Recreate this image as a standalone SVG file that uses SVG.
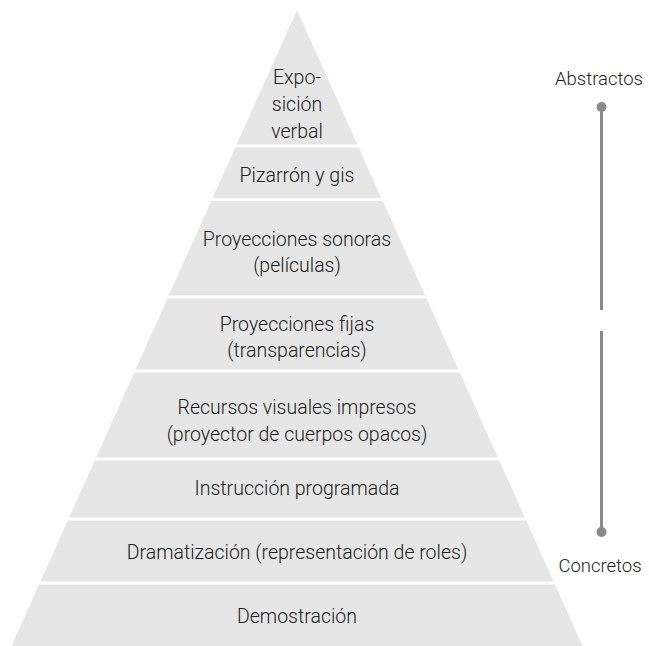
<svg xmlns="http://www.w3.org/2000/svg" width="649" height="646" viewBox="0 0 649 646">
<style>
.band{fill:#e6e6e6}
.t{font-family:Roboto,"Liberation Sans",sans-serif;font-size:19.5px;fill:#222;text-anchor:middle;font-weight:300}
.s{font-size:18.5px}
.ln{stroke:#8a8a8a;stroke-width:3;fill:none}
.dot{fill:#8a8a8a}
</style>
<rect width="649" height="646" fill="#fff"/>
<g id="n1"><polygon class="band" points="297,10 357.4,144.5 236.6,144.5"/>
<text class="t" x="297" y="84">Expo-</text><text class="t" x="297" y="111">sición</text><text class="t" x="297" y="138">verbal</text></g>
<g id="n2"><polygon class="band" points="235.3,147.5 358.7,147.5 381.4,198 212.6,198"/>
<text class="t" x="297" y="182">Pizarrón y gis</text></g>
<g id="n3"><polygon class="band" points="211.2,201 382.8,201 425.2,295.5 168.8,295.5"/>
<text class="t" x="297" y="246">Proyecciones sonoras</text><text class="t" x="297" y="272">(películas)</text></g>
<g id="n4"><polygon class="band" points="167.5,298.5 426.5,298.5 458.4,369.5 135.6,369.5"/>
<text class="t" x="297" y="331">Proyecciones fijas</text><text class="t" x="297" y="357">(transparencias)</text></g>
<g id="n5"><polygon class="band" points="134.2,372.5 459.8,372.5 497.9,457.5 96.1,457.5"/>
<text class="t" x="297" y="414">Recursos visuales impresos</text><text class="t" x="297" y="441">(proyector de cuerpos opacos)</text></g>
<g id="n6"><polygon class="band" points="94.7,460.5 499.3,460.5 524.9,517.5 69.1,517.5"/>
<text class="t" x="297" y="495">Instrucción programada</text></g>
<g id="n7"><polygon class="band" points="67.8,520.5 526.2,520.5 553.6,581.5 40.4,581.5"/>
<text class="t" x="297" y="559">Dramatización (representación de roles)</text></g>
<g id="n8"><polygon class="band" points="39,584.5 555,584.5 582.6,646 11.4,646"/>
<text class="t" x="297" y="623">Demostración</text></g>
<g id="labels">
<text class="t s" x="599" y="85">Abstractos</text>
<text class="t s" x="600" y="572">Concretos</text>
</g>
<g id="connectors">
<line class="ln" x1="601.5" y1="107" x2="601.5" y2="310"/>
<line class="ln" x1="601.5" y1="331" x2="601.5" y2="532"/>
<circle class="dot" cx="601.5" cy="107" r="5"/>
<circle class="dot" cx="601.5" cy="532" r="5"/>
</g>
</svg>
